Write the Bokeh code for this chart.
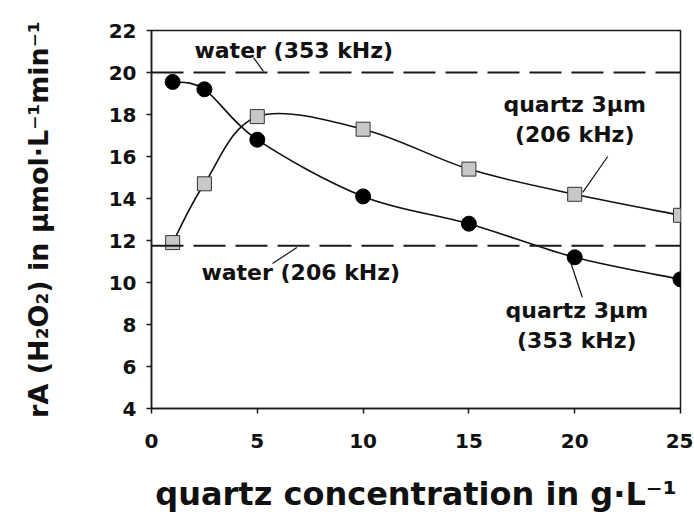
from bokeh.plotting import figure
from bokeh.models import Span, Label, ColumnDataSource, FixedTicker, Range1d
from bokeh.embed import file_html
from bokeh.resources import INLINE

# ---- data ----
conc = [1, 2.5, 5, 10, 15, 20, 25]                       # quartz concentration, g/L
quartz_353 = [19.55, 19.2, 16.8, 14.1, 12.8, 11.2, 10.15]  # quartz 3um (353 kHz)
quartz_206 = [11.9, 14.7, 17.9, 17.3, 15.4, 14.2, 13.2]    # quartz 3um (206 kHz)
water_353 = 20.0
water_206 = 11.75
x_ticks = [0, 5, 10, 15, 20, 25]
y_ticks = [4, 6, 8, 10, 12, 14, 16, 18, 20, 22]

FONT = "DejaVu Sans"


def smooth_segments(xs, ys):
    """Cubic Bezier segments (Catmull-Rom style smoothing, like a smoothed line)."""
    n = len(xs)
    d = dict(x0=[], y0=[], x1=[], y1=[], cx0=[], cy0=[], cx1=[], cy1=[])
    for i in range(n - 1):
        a = i - 1 if i > 0 else i
        b = i + 2 if i + 2 < n else i + 1
        d["x0"].append(xs[i]); d["y0"].append(ys[i])
        d["x1"].append(xs[i + 1]); d["y1"].append(ys[i + 1])
        d["cx0"].append(xs[i] + (xs[i + 1] - xs[a]) / 6.0)
        d["cy0"].append(ys[i] + (ys[i + 1] - ys[a]) / 6.0)
        d["cx1"].append(xs[i + 1] - (xs[b] - xs[i]) / 6.0)
        d["cy1"].append(ys[i + 1] - (ys[b] - ys[i]) / 6.0)
    return ColumnDataSource(d)


p = figure(output_backend="svg", toolbar_location=None,
           frame_width=529, frame_height=378,
           min_border_left=151, min_border_right=13,
           min_border_top=30, min_border_bottom=104,
           x_range=Range1d(0, 25), y_range=Range1d(4, 22),
           background_fill_color="white", border_fill_color="white")

p.xgrid.visible = False
p.ygrid.visible = False
p.outline_line_color = "#1a1a1a"
p.outline_line_width = 1.5

for ax in (p.xaxis[0], p.yaxis[0]):
    ax.axis_line_color = "#1a1a1a"
    ax.axis_line_width = 1.5
    ax.major_tick_line_color = "#1a1a1a"
    ax.major_tick_line_width = 1.5
    ax.major_tick_in = 0
    ax.major_tick_out = 5
    ax.minor_tick_line_color = None
    ax.major_label_text_font = FONT
    ax.major_label_text_font_style = "bold"
    ax.major_label_text_font_size = "20px"
    ax.major_label_text_color = "#111111"
    ax.axis_label_text_font = FONT
    ax.axis_label_text_font_style = "bold"
    ax.axis_label_text_color = "#111111"

p.xaxis.ticker = FixedTicker(ticks=x_ticks)
p.yaxis.ticker = FixedTicker(ticks=y_ticks)
p.xaxis.major_label_standoff = 20
p.yaxis.major_label_standoff = 10

p.xaxis.axis_label = "quartz concentration in g·L⁻¹"
p.xaxis.axis_label_text_font_size = "32px"
p.xaxis.axis_label_standoff = 24
p.yaxis.axis_label = "rA (H₂O₂) in µmol·L⁻¹min⁻¹"
p.yaxis.axis_label_text_font_size = "27px"
p.yaxis.axis_label_standoff = 52

# water reference lines
for loc in (water_353, water_206):
    p.add_layout(Span(location=loc, dimension="width", line_color="#1a1a1a",
                      line_width=2, line_dash="32 10"))

# smoothed curves
p.bezier(x0="x0", y0="y0", x1="x1", y1="y1", cx0="cx0", cy0="cy0", cx1="cx1", cy1="cy1",
         source=smooth_segments(conc, quartz_353), line_color="#111111", line_width=1.6)
p.bezier(x0="x0", y0="y0", x1="x1", y1="y1", cx0="cx0", cy0="cy0", cx1="cx1", cy1="cy1",
         source=smooth_segments(conc, quartz_206), line_color="#111111", line_width=1.6)

# markers
p.scatter(conc, quartz_353, marker="circle", size=15, fill_color="black", line_color="black")
p.scatter(conc, quartz_206, marker="square", size=14, fill_color="#c8c8c8",
          line_color="#333333", line_width=1)

# annotation texts
def note(x, y, text, align="left"):
    p.add_layout(Label(x=x, y=y, text=text, text_align=align, text_baseline="middle",
                       text_font=FONT, text_font_style="bold", text_font_size="22px",
                       text_color="#111111"))

note(2.03, 21.05, "water (353 kHz)")
note(2.36, 10.48, "water (206 kHz)")
note(20.0, 18.48, "quartz 3µm", "center")
note(20.0, 17.05, "(206 kHz)", "center")
note(20.1, 8.67, "quartz 3µm", "center")
note(20.1, 7.24, "(353 kHz)", "center")

# leader lines
lead_x0 = [4.82, 6.87, 21.56, 19.83]
lead_y0 = [20.71, 11.67, 16.0, 10.89]
lead_x1 = [5.29, 5.72, 20.38, 20.36]
lead_y1 = [20.05, 10.9, 14.29, 9.30]
p.segment(lead_x0, lead_y0, lead_x1, lead_y1, line_color="#111111", line_width=1.2)

open("out.html", "w").write(file_html(p, INLINE))
